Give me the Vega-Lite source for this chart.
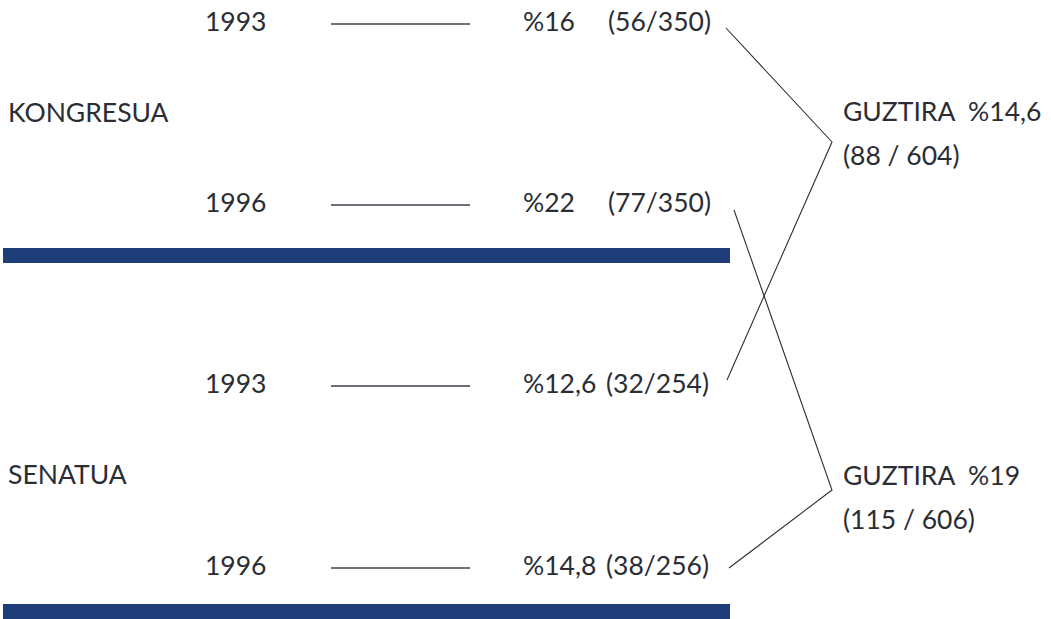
{
  "$schema": "https://vega.github.io/schema/vega-lite/v6.json",
  "width": 1051,
  "height": 619,
  "autosize": {"type": "fit", "contains": "padding"},
  "padding": 0,
  "background": "#ffffff",
  "config": {"view": {"stroke": null}},
  "datasets": {
    "bars": [
      {"chamber": "KONGRESUA", "x0": 3, "x1": 730, "y0": 248, "y1": 263},
      {"chamber": "SENATUA", "x0": 3, "x1": 730, "y0": 604, "y1": 619}
    ],
    "ticks": [
      {"row": "K1993", "x0": 331, "x1": 470, "y": 24},
      {"row": "K1996", "x0": 331, "x1": 470, "y": 205},
      {"row": "S1993", "x0": 331, "x1": 470, "y": 386},
      {"row": "S1996", "x0": 331, "x1": 470, "y": 568}
    ],
    "links": [
      {"group": "A", "order": 1, "x": 726, "y": 28},
      {"group": "A", "order": 2, "x": 832, "y": 142},
      {"group": "A", "order": 3, "x": 727, "y": 380},
      {"group": "B", "order": 1, "x": 734, "y": 210},
      {"group": "B", "order": 2, "x": 832, "y": 490},
      {"group": "B", "order": 3, "x": 729, "y": 568}
    ],
    "labels": [
      {"label": "1993", "x": 205, "y": 23},
      {"label": "%16", "x": 523, "y": 23},
      {"label": "(56/350)", "x": 608, "y": 23},
      {"label": "KONGRESUA", "x": 8, "y": 114},
      {"label": "1996", "x": 205, "y": 204},
      {"label": "%22", "x": 523, "y": 204},
      {"label": "(77/350)", "x": 608, "y": 204},
      {"label": "1993", "x": 205, "y": 385},
      {"label": "%12,6", "x": 523, "y": 385},
      {"label": "(32/254)", "x": 606, "y": 385},
      {"label": "SENATUA", "x": 8, "y": 476},
      {"label": "1996", "x": 205, "y": 567},
      {"label": "%14,8", "x": 523, "y": 567},
      {"label": "(38/256)", "x": 606, "y": 567},
      {"label": "GUZTIRA\u00a0\u00a0%14,6", "x": 843, "y": 113},
      {"label": "(88 / 604)", "x": 843, "y": 157},
      {"label": "GUZTIRA\u00a0\u00a0%19", "x": 843, "y": 477},
      {"label": "(115 / 606)", "x": 843, "y": 521}
    ]
  },
  "layer": [
    {
      "data": {"name": "bars"},
      "mark": {"type": "rect", "color": "#1f3d78"},
      "encoding": {
        "x": {"field": "x0", "type": "quantitative", "scale": {"domain": [0, 1051], "nice": false, "zero": false}, "axis": null},
        "x2": {"field": "x1"},
        "y": {"field": "y0", "type": "quantitative", "scale": {"domain": [0, 619], "nice": false, "zero": false, "reverse": true}, "axis": null},
        "y2": {"field": "y1"}
      }
    },
    {
      "data": {"name": "ticks"},
      "mark": {"type": "rule", "color": "#3a3f4a", "strokeWidth": 1.6},
      "encoding": {
        "x": {"field": "x0", "type": "quantitative"},
        "x2": {"field": "x1"},
        "y": {"field": "y", "type": "quantitative"}
      }
    },
    {
      "data": {"name": "links"},
      "mark": {"type": "line", "color": "#2e3038", "strokeWidth": 1.1},
      "encoding": {
        "x": {"field": "x", "type": "quantitative"},
        "y": {"field": "y", "type": "quantitative"},
        "detail": {"field": "group"},
        "order": {"field": "order"}
      }
    },
    {
      "data": {"name": "labels"},
      "mark": {"type": "text", "align": "left", "baseline": "middle", "font": "Lato", "fontSize": 26.5, "color": "#2b2d35"},
      "encoding": {
        "x": {"field": "x", "type": "quantitative"},
        "y": {"field": "y", "type": "quantitative"},
        "text": {"field": "label"}
      }
    }
  ]
}
